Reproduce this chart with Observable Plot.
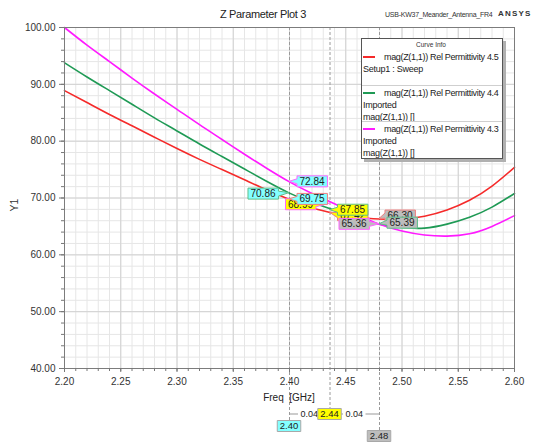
<!DOCTYPE html>
<html><head><meta charset="utf-8">
<script src="https://cdn.jsdelivr.net/npm/d3@7"></script>
<script src="https://cdn.jsdelivr.net/npm/@observablehq/plot@0.6"></script>
<style>
html,body{margin:0;padding:0;background:#fff;}
#wrap{position:relative;width:554px;height:442px;overflow:hidden;font-family:"Liberation Sans",Arial,sans-serif;color:#222;}
#wrap svg{position:absolute;left:0;top:0;}
.abs{position:absolute;white-space:nowrap;line-height:1;}
</style></head><body>
<div id="wrap"></div>
<script>
// ---------- data ----------
const freq = [2.20,2.22,2.24,2.26,2.28,2.30,2.32,2.34,2.36,2.38,2.40,2.42,2.44,2.46,2.48,2.50,2.52,2.54,2.56,2.58,2.60];
const magZ_eps45 = [88.9,86.8,84.7,82.7,80.7,78.7,76.8,75.0,73.2,71.4,69.75,68.3,67.3,66.6,66.3,66.3,66.8,67.9,69.6,72.1,75.4];
const magZ_eps44 = [93.8,91.3,88.9,86.5,84.1,81.8,79.5,77.3,75.1,72.9,70.86,69.2,67.85,66.5,65.39,64.8,64.7,65.4,66.6,68.4,70.8];
const magZ_eps43 = [100.0,96.9,94.0,91.1,88.3,85.6,82.9,80.3,77.7,75.2,72.84,70.8,68.99,67.1,65.36,64.2,63.5,63.3,63.7,65.0,66.9];
const seriesNames = ["mag(Z(1,1)) Rel Permittivity 4.5","mag(Z(1,1)) Rel Permittivity 4.4","mag(Z(1,1)) Rel Permittivity 4.3"];
const seriesSub = [["Setup1 : Sweep"],["Imported","mag(Z(1,1)) []"],["Imported","mag(Z(1,1)) []"]];
const seriesColors = ["#f52a2a","#1f9a55","#ff1aff"];
const markerFreqs = [2.40, 2.436, 2.48];
const markerLabels = ["2.40","2.44","2.48"];
const markerFills = ["#84ffff","#ffff00","#bdbdbd"];
const markerValues45 = [69.75, 67.42, 66.30];
const markerValues44 = [70.86, 67.85, 65.39];
const markerValues43 = [72.84, 68.99, 65.36];
const yTicks = [40,50,60,70,80,90,100];
const xTicks = [2.20,2.25,2.30,2.35,2.40,2.45,2.50,2.55,2.60];
const title = "Z Parameter Plot 3";
const projectName = "USB-KW37_Meander_Antenna_FR4";
const brand = "ANSYS";
const yLabel = "Y1";
const xLabel = "Freq\u00a0\u00a0[GHz]";
const legendTitle = "Curve Info";

// ---------- layout / style ----------
const W = 554, H = 442;
const minorX = d3.range(0, 41).map(i => +(2.2 + i * 0.01).toFixed(2));
const minorY = d3.range(40, 101, 2);
const markerExt = [52, 40, 62];
const markerLabelDy = [58, 46, 68];
const labelLayout = [
  [2,1,-29,1,"L"],[2,0,23,0,"R"],[1,0,-26,1,"L"],[0,0,23,0,"R"],
  [0,1,23,3,"R"],[1,1,23,0,"R"],[2,2,-25,0,"L"],[0,2,21,-3,"R"],[1,2,23,-1,"R"]
];
const labelBorders = ["#f08080","#5fbf8a","#ff66ff"];

const seriesVals = [magZ_eps45, magZ_eps44, magZ_eps43];
const markerVals = [markerValues45, markerValues44, markerValues43];

const lineMarks = seriesVals.map((vals, s) =>
  Plot.line(freq.map((f, i) => ({f, v: vals[i]})), {x: "f", y: "v", stroke: seriesColors[s], strokeWidth: 1.6, curve: "natural"}));

const markerRules = markerFreqs.map((f, i) =>
  Plot.ruleX([f], {stroke: "#9a9a9a", strokeDasharray: "3,2", strokeWidth: 1, insetBottom: -markerExt[i]}));

const plot = Plot.plot({
  width: W, height: H,
  marginLeft: 64, marginRight: 40, marginTop: 27, marginBottom: 74,
  style: {fontFamily: "Liberation Sans, Arial, sans-serif", background: "transparent", overflow: "visible"},
  x: {domain: [2.2, 2.6]},
  y: {domain: [40, 100]},
  marks: [
    Plot.gridX(minorX, {stroke: "#e6e6e6", strokeOpacity: 1}),
    Plot.gridY(minorY, {stroke: "#e6e6e6", strokeOpacity: 1}),
    Plot.gridX(xTicks, {stroke: "#d2d2d2", strokeOpacity: 1}),
    Plot.gridY(yTicks, {stroke: "#d2d2d2", strokeOpacity: 1}),
    ...markerRules,
    ...lineMarks,
    Plot.frame({stroke: "#7c7c7c"}),
    Plot.axisY(minorY, {tickSize: 3, tickFormat: () => "", label: null, stroke: "#777"}),
    Plot.axisY(yTicks, {tickSize: 5, tickPadding: 4, tickFormat: d => d.toFixed(2), label: null, fontSize: 10, stroke: "#777", fill: "#333"}),
    Plot.axisX(minorX, {tickSize: 3, tickFormat: () => "", label: null, stroke: "#777"}),
    Plot.axisX(xTicks, {tickSize: 4, tickPadding: 5, tickFormat: d => d.toFixed(2), label: null, fontSize: 10, stroke: "#777", fill: "#333"})
  ]
});

const wrap = document.getElementById("wrap");
wrap.appendChild(plot);

// ---------- annotations through Plot's scales ----------
const sx = plot.scale("x"), sy = plot.scale("y");
const svg = d3.select(plot);
const ann = svg.append("g").attr("font-family", "Liberation Sans, Arial, sans-serif");

function boxLabel(g, cx, cy, text, fill, stroke, fontSize, side, ax, ay) {
  const t = g.append("text").attr("x", cx).attr("y", cy).attr("dy", "0.35em")
    .attr("text-anchor", "middle").attr("font-size", fontSize).attr("fill", "#222").text(text);
  const bb = t.node().getBBox();
  const x0 = bb.x - 2.5, x1 = bb.x + bb.width + 2.5, y0 = cy - 5.5, y1 = cy + 5.5;
  let d;
  if (side === "R") d = `M${x1},${y0}H${x0}V${cy - 2.5}L${ax},${ay}L${x0},${cy + 2.5}V${y1}H${x1}Z`;
  else if (side === "L") d = `M${x0},${y0}H${x1}V${cy - 2.5}L${ax},${ay}L${x1},${cy + 2.5}V${y1}H${x0}Z`;
  else d = `M${x0},${y0}H${x1}V${y1}H${x0}Z`;
  g.insert("path", () => t.node()).attr("d", d).attr("fill", fill).attr("stroke", stroke).attr("stroke-width", 1);
}

labelLayout.forEach(([s, m, dx, dy, side]) => {
  const v = markerVals[s][m];
  const ax = sx.apply(markerFreqs[m]), ay = sy.apply(v);
  const g = ann.append("g");
  boxLabel(g, ax + dx, ay + dy, v.toFixed(2), markerFills[m], labelBorders[s], 10, side, ax, ay);
});

const yBase = sy.apply(40);
const yDim = yBase + markerLabelDy[1];
ann.append("line").attr("x1", sx.apply(markerFreqs[0])).attr("x2", sx.apply(markerFreqs[2]))
  .attr("y1", yDim).attr("y2", yDim).attr("stroke", "#999");
for (let i = 0; i < 2; i++) {
  const delta = (+markerLabels[i + 1] - +markerLabels[i]).toFixed(2);
  const cx = (sx.apply(markerFreqs[i]) + sx.apply(markerFreqs[i + 1])) / 2;
  const g = ann.append("g");
  boxLabel(g, cx, yDim, delta, "#fff", "none", 9, "N");
}
markerFreqs.forEach((f, i) => {
  const g = ann.append("g");
  boxLabel(g, sx.apply(f), yBase + markerLabelDy[i], markerLabels[i], markerFills[i], "#a8a8a8", 9.5, "N");
});

// ---------- HTML text (title, labels, legend) ----------
function addDiv(txt, style) {
  const d = document.createElement("div");
  d.className = "abs"; d.textContent = txt;
  Object.assign(d.style, style);
  wrap.appendChild(d);
  return d;
}
addDiv(title, {left: "263px", top: "9px", fontSize: "11px", letterSpacing: "-0.35px", transform: "translateX(-50%)", color: "#222"});
addDiv(projectName, {left: "385px", top: "11px", fontSize: "7px", letterSpacing: "-0.25px", color: "#333"});
addDiv(brand, {left: "498px", top: "10px", fontSize: "8px", fontWeight: "bold", letterSpacing: "1.2px", color: "#333"});
addDiv(yLabel, {left: "14px", top: "205px", fontSize: "10.5px", transform: "translate(-50%,-50%) rotate(-90deg)", color: "#333"});
addDiv(xLabel, {left: "289px", top: "393px", fontSize: "10px", transform: "translateX(-50%)", color: "#222"});

const leg = document.createElement("div");
Object.assign(leg.style, {position: "absolute", left: "361px", top: "38px", width: "140px", height: "119px",
  border: "1px solid #555", background: "#fff", boxShadow: "3px 3px 0 #b0b0b0"});
wrap.appendChild(leg);
addDiv(legendTitle, {left: "431px", top: "42px", fontSize: "6.5px", transform: "translateX(-50%)", color: "#333"});
const entryTop = [57, 93, 129];
seriesNames.forEach((name, s) => {
  const y = entryTop[s];
  const ln = document.createElement("div");
  Object.assign(ln.style, {position: "absolute", left: "363px", top: (y - 1) + "px", width: "12px", height: "2px", background: seriesColors[s]});
  wrap.appendChild(ln);
  addDiv(name, {left: "384px", top: (y - 4) + "px", fontSize: "9px", letterSpacing: "-0.33px", color: "#222"});
  seriesSub[s].forEach((t, k) => addDiv(t, {left: "363px", top: (y - 4 + 12 * (k + 1)) + "px", fontSize: "9px", letterSpacing: "-0.25px", color: "#222"}));
  if (s > 0) {
    const sep = document.createElement("div");
    Object.assign(sep.style, {position: "absolute", left: "362px", top: (y - 8) + "px", width: "140px", height: "1px", background: "#cfcfcf"});
    wrap.appendChild(sep);
  }
});
</script>
</body></html>
